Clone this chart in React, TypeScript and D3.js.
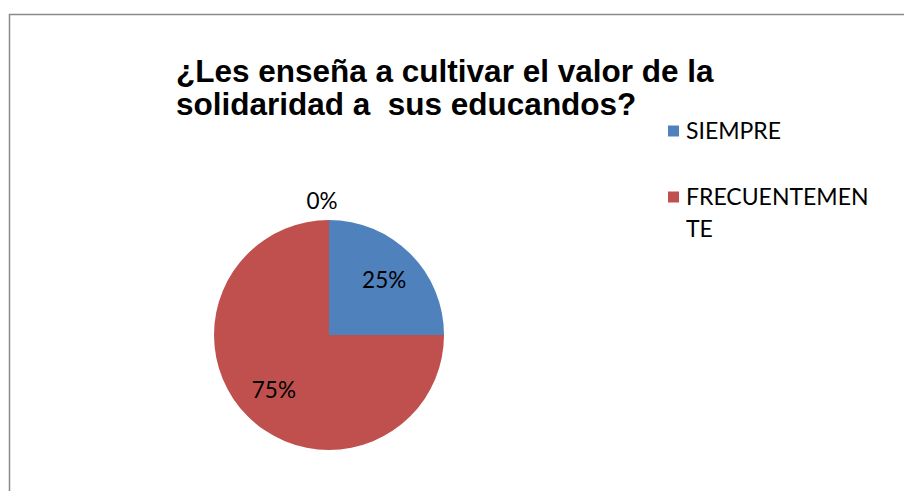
import React, { useEffect, useRef } from 'react';
import * as d3 from 'd3';

const categories = ['SIEMPRE', 'FRECUENTEMENTE', 'NUNCA'];
const values = [25, 75, 0];
const colors = ['#4F81BD', '#C0504D', '#9BBB59'];
const legendLines = [['SIEMPRE'], ['FRECUENTEMEN', 'TE']];
const titleLines = ['¿Les enseña a cultivar el valor de la', 'solidaridad a  sus educandos?'];

const App = () => {
  const ref = useRef<SVGSVGElement>(null);
  const width = 904;
  const height = 491;

  useEffect(() => {
    const svg = d3.select(ref.current);
    svg.selectAll('*').remove();
    svg.attr('width', width).attr('height', height);

    svg.append('rect').attr('width', width).attr('height', height).attr('fill', '#fff');

    // chart frame (left and top edges visible)
    svg.append('path')
      .attr('d', `M9.5,${height} L9.5,14.5 L${width},14.5`)
      .attr('fill', 'none')
      .attr('stroke', '#8a8a8a')
      .attr('stroke-width', 1.5);

    // title
    const title = svg.append('text')
      .attr('font-family', '"Liberation Sans", Arial, sans-serif')
      .attr('font-weight', 'bold')
      .attr('font-size', 31.5)
      .style('white-space', 'pre')
      .attr('fill', '#000');
    titleLines.forEach((t, i) => {
      title.append('tspan').attr('x', 176).attr('y', 82 + i * 33).text(t);
    });

    const cx = 329, cy = 335, r = 115;
    const g = svg.append('g').attr('transform', `translate(${cx},${cy})`);

    const pie = d3.pie<number>().sort(null).value(d => d);
    const arcs = pie(values);
    const arc = d3.arc<d3.PieArcDatum<number>>().innerRadius(0).outerRadius(r);
    const labelArc = d3.arc<d3.PieArcDatum<number>>().innerRadius(78).outerRadius(78);
    const outerArc = d3.arc<d3.PieArcDatum<number>>().innerRadius(r + 19).outerRadius(r + 19);

    g.selectAll('path.slice')
      .data(arcs)
      .join('path')
      .attr('class', 'slice')
      .attr('d', arc)
      .attr('fill', (_, i) => colors[i]);

    g.selectAll('text.lbl')
      .data(arcs)
      .join('text')
      .attr('class', 'lbl')
      .attr('transform', d => {
        const [x, y] = d.value === 0 ? outerArc.centroid(d) : labelArc.centroid(d);
        return `translate(${d.value === 0 ? x - 7 : x},${y})`;
      })
      .attr('text-anchor', 'middle')
      .attr('dy', '0.35em')
      .attr('font-family', 'Lato, "Open Sans", sans-serif')
      .attr('font-size', 22.5)
      .attr('fill', '#000')
      .text(d => `${Math.round((d.value / d3.sum(values)) * 100)}%`);

    // legend
    const leg = svg.append('g').attr('transform', 'translate(668,0)');
    const legY = d3.scalePoint<string>().domain(categories.slice(0, 2)).range([131, 197]);
    categories.slice(0, 2).forEach((c, i) => {
      const y = legY(c) as number;
      leg.append('rect').attr('x', 0).attr('y', y - 5.5).attr('width', 11).attr('height', 11).attr('fill', colors[i]);
      const t = leg.append('text')
        .attr('font-family', 'Lato, "Open Sans", sans-serif')
        .attr('font-size', 23)
        .attr('fill', '#000');
      legendLines[i].forEach((line, j) => {
        t.append('tspan').attr('x', 18).attr('y', y + 8 + j * 32).text(line);
      });
    });
  }, []);

  return <svg ref={ref} style={{ position: 'absolute', left: 0, top: 0 }} />;
};

export default App;
